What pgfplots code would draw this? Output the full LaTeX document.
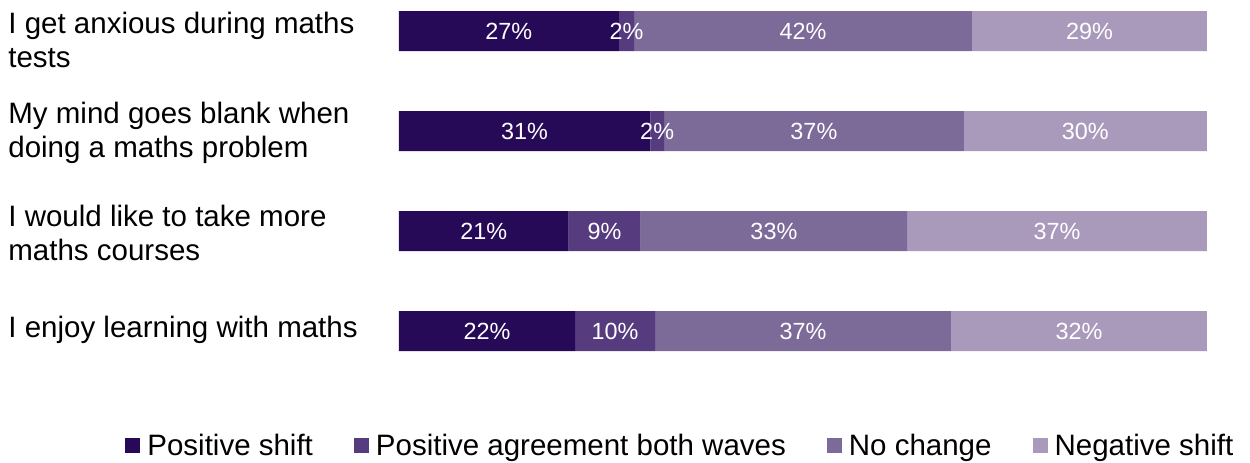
\documentclass[border=0pt]{standalone}
\usepackage{pgfplots}
\pgfplotsset{compat=1.18}
\usepackage{fontspec}
\setmainfont{Liberation Sans}

\definecolor{pshift}{HTML}{260A57}
\definecolor{pboth}{HTML}{563C7E}
\definecolor{nochg}{HTML}{7C6A99}
\definecolor{nshift}{HTML}{A99ABC}

\newcommand\catfont{\fontsize{14.75pt}{17pt}\selectfont}
\newcommand\valfont{\fontsize{11.7pt}{13pt}\selectfont}

\pgfplotsset{
  base/.style={scale only axis, width=404pt, height=190.5pt,
    xmin=0, xmax=100, ymin=-0.5, ymax=3.31, hide axis, clip=false},
  sq/.style={legend image code/.code={\fill[##1] (0pt,-3.3pt) rectangle (7.5pt,4.2pt);}},
}

\begin{document}
\begin{tikzpicture}
\useasboundingbox (-199.5pt,-40.5pt) rectangle (425.5pt,190.5pt);
\begin{axis}[
  base,
  xbar stacked, bar width=20pt,
  legend columns=4,
  legend style={at={(axis description cs:0,0)}, anchor=south west,
    xshift=-137pt, yshift=-39pt, draw=none, fill=none, font=\catfont,
    inner sep=0pt, nodes={inner sep=0pt}, column sep=3.5pt,
    /tikz/every even column/.append style={column sep=20.5pt}},
]
% y = 3 top row ... 0 bottom row
\addplot[fill=pshift, draw=none, sq] coordinates {(27.2,3) (31.1,2) (21.0,1) (21.8,0)};
\addplot[fill=pboth, draw=none, sq] coordinates {(1.9,3) (1.7,2) (8.9,1) (9.9,0)};
\addplot[fill=nochg, draw=none, sq] coordinates {(41.8,3) (37.1,2) (33.0,1) (36.6,0)};
\addplot[fill=nshift, draw=none, sq] coordinates {(29.1,3) (30.1,2) (37.1,1) (31.7,0)};
\legend{Positive shift, Positive agreement both waves, No change, Negative shift}

% base anchor = baseline of the last line
\node[anchor=base west, align=left, font=\catfont, inner sep=0pt, xshift=-195.5pt, yshift=-18pt] at (axis cs:0,3) {I get anxious during maths\\tests};
\node[anchor=base west, align=left, font=\catfont, inner sep=0pt, xshift=-195.5pt, yshift=-13pt] at (axis cs:0,2) {My mind goes blank when\\doing a maths problem};
\node[anchor=base west, align=left, font=\catfont, inner sep=0pt, xshift=-195.5pt, yshift=-14.5pt] at (axis cs:0,1) {I would like to take more\\maths courses};
\node[anchor=base west, align=left, font=\catfont, inner sep=0pt, xshift=-195.5pt, yshift=-3pt] at (axis cs:0,0) {I enjoy learning with maths};
\end{axis}

% value labels at the middle of each segment
\begin{axis}[base]
\addplot[draw=none, mark=none, point meta=explicit symbolic, nodes near coords,
  every node near coord/.style={anchor=center, font=\valfont, text=white}]
  coordinates {
    (13.6,3) [27\%] (28.15,3) [2\%] (50.0,3) [42\%] (85.45,3) [29\%]
    (15.55,2) [31\%] (31.95,2) [2\%] (51.35,2) [37\%] (84.95,2) [30\%]
    (10.5,1) [21\%] (25.45,1) [9\%] (46.4,1) [33\%] (81.45,1) [37\%]
    (10.9,0) [22\%] (26.75,0) [10\%] (50.0,0) [37\%] (84.15,0) [32\%]
  };
\end{axis}
\end{tikzpicture}
\end{document}
